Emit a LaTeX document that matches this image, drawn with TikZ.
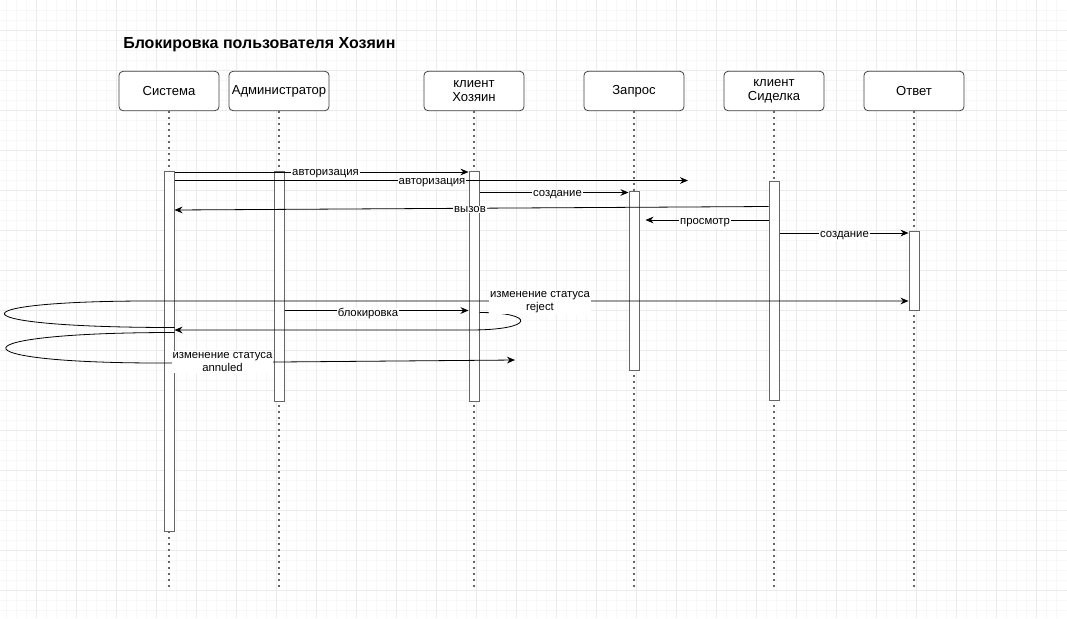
\documentclass[tikz,border=0pt]{standalone}
\usepackage{fontspec}
\setmainfont{Liberation Sans}
\usetikzlibrary{arrows.meta, positioning, calc}

\begin{document}
\begin{tikzpicture}[
        % styles for the sequence diagram
        x=0.75pt, y=-0.75pt,
        node distance=7.5pt,
        head/.style={
            rectangle,
            draw=black!75,
            line width=0.6pt,
            rounded corners=3pt,
            outer sep=0pt,
            inner sep=1pt,
            minimum width=75pt,
            minimum height=29.5pt,
            align=center,
            fill=white,
            font=\fontsize{9.8}{10.5}\selectfont
        },
        act/.style={
            rectangle,
            draw=black!60,
            line width=0.75pt,
            fill=white,
            minimum width=7.5pt,
            inner sep=0pt,
            anchor=north
        },
        lifeline/.style={
            draw=black!60,
            line width=0.9pt,
            dash pattern=on 2pt off 2.5pt
        },
        msg/.style={
            -{Stealth[length=6pt, width=5pt]},
            line width=0.6pt
        },
        msg_label/.style={
            fill=white,
            inner sep=0.6pt,
            align=center,
            font=\fontsize{8.5}{10}\selectfont
        },
        title_text/.style={
            anchor=base west,
            inner sep=0pt,
            font=\fontsize{12}{14}\selectfont\bfseries
        },
        minorgrid/.style={draw=black!3, line width=0.5pt},
        majorgrid/.style={draw=black!8, line width=0.6pt}
    ]

    % --- 0. BACKGROUND GRID ---
    \useasboundingbox (0,0) rectangle (1067,618);
    \fill[white] (0,0) rectangle (1067,618);
    \foreach \x in {6.7,16.7,...,1066}
        \draw[minorgrid] (\x,0) -- (\x,618);
    \foreach \y in {10,20,...,610}
        \draw[minorgrid] (0,\y) -- (1067,\y);
    \foreach \x in {36.7,76.7,...,1066}
        \draw[majorgrid] (\x,0) -- (\x,618);
    \foreach \y in {30,70,...,610}
        \draw[majorgrid] (0,\y) -- (1067,\y);

    % --- 1. TITLE AND HEADS ---
    \node[title_text] (title) at (123,48) {Блокировка пользователя Хозяин};

    \node[head] (sys) at (169,91) {Система};
    \node[head, right=of sys] (adm) {Администратор};
    \node[head, right=71.25pt of adm] (host) {клиент\\Хозяин};
    \node[head, right=45pt of host] (req) {Запрос};
    \node[head, right=30pt of req] (nurse) {клиент\\Сиделка};
    \node[head, right=30pt of nurse] (ans) {Ответ};

    % lifelines
    \foreach \h in {sys, adm, host, req, nurse, ans}
        \draw[lifeline] (\h.south) -- (\h.south |- 0,588);

    % activations
    \node[act, minimum height=270pt] (sysAct) at (sys.south |- 0,170.5) {};
    \node[act, minimum height=172.5pt] (admAct) at (adm.south |- 0,170.5) {};
    \node[act, minimum height=172.5pt] (hostAct) at (host.south |- 0,170.5) {};
    \node[act, minimum height=134.5pt] (reqAct) at (req.south |- 0,190.7) {};
    \node[act, minimum height=164.5pt] (nurseAct) at (nurse.south |- 0,180.7) {};
    \node[act, minimum height=59.5pt] (ansAct) at (ans.south |- 0,230.7) {};

    % --- 2. MESSAGES ---
    \coordinate (authEnd) at (688,180.5);
    \coordinate (annEnd) at (515,360);

    \draw[msg] (sysAct.east |- 0,172) -- (hostAct.west |- 0,172);
    \draw[msg] (sysAct.east |- 0,180.5) -- (authEnd);
    \draw[msg] (hostAct.east |- 0,192.5) -- (reqAct.west |- 0,192.5);
    \draw[msg] (nurseAct.west |- 0,206.5) -- (sysAct.east |- 0,210);
    \draw[msg, shorten >=4.5pt] (nurseAct.west |- 0,220) -- (reqAct.east |- 0,220);
    \draw[msg] (nurseAct.east |- 0,233) -- (ansAct.west |- 0,233);
    \draw[msg] (admAct.east |- 0,310.5) -- (hostAct.west |- 0,310.5);

    % curled edges
    \draw[msg] (hostAct.east |- 0,312.5) .. controls (536,312.5) and (536,330) .. (470,330) -- (sysAct.east |- 0,330);
    \draw[msg] (sysAct.east |- 0,327.5) .. controls (-48,327.5) and (-48,301) .. (150,301) -- (ansAct.west |- 0,301);
    \draw[msg] (sysAct.east |- 0,332.5) .. controls (-48,332.5) and (-48,363) .. (160,363) -- (annEnd);

    % --- 3. LABELS ---
    \node[msg_label] (lblAuthA) at (325.5,174) {авторизация};
    \node[msg_label] (lblAuthB) at (432,183) {авторизация};
    \node[msg_label] (lblCreateA) at (557.5,195) {создание};
    \node[msg_label] (lblCall) at (470,209.5) {вызов};
    \node[msg_label] (lblView) at (705,223) {просмотр};
    \node[msg_label] (lblCreateB) at (844.5,236) {создание};
    \node[msg_label] (lblBlock) at (368,314) {блокировка};
    \node[msg_label] (lblReject) at (540,302) {изменение статуса\\reject};
    \node[msg_label] (lblAnnul) at (222.5,362) {изменение статуса\\annuled};

\end{tikzpicture}
\end{document}
